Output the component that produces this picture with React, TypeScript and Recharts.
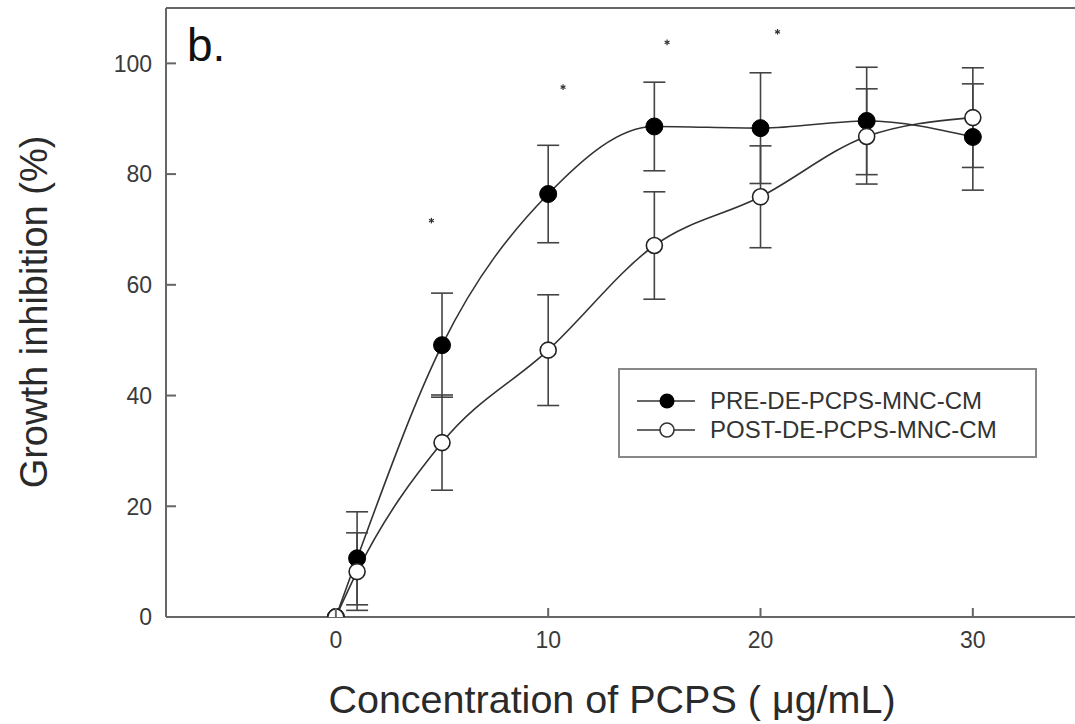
import React from 'react';
import {
  ComposedChart, Line, Scatter, XAxis, YAxis, ErrorBar, ReferenceLine, Legend, Customized,
} from 'recharts';

// ---- data ----
const concentrations = [0, 1, 5, 10, 15, 20, 25, 30];
const preMeans = [0, 10.6, 49.1, 76.4, 88.6, 88.3, 89.6, 86.7];
const preErrors = [0, 8.4, 9.4, 8.8, 8.0, 10.0, 9.7, 9.6];
const postMeans = [0, 8.2, 31.5, 48.2, 67.1, 75.9, 86.8, 90.2];
const postErrors = [0, 7.0, 8.6, 10.0, 9.7, 9.2, 8.6, 9.0];
const starX = [4.5, 10.7, 15.6, 20.8];
const starY = [71.6, 95.7, 103.8, 105.7];
const xTicks = [0, 10, 20, 30];
const yTicks = [0, 20, 40, 60, 80, 100];
const preName = 'PRE-DE-PCPS-MNC-CM';
const postName = 'POST-DE-PCPS-MNC-CM';

const preData = concentrations.map((x, i) => ({ x, y: preMeans[i], err: preErrors[i] }));
const postData = concentrations.map((x, i) => ({ x, y: postMeans[i], err: postErrors[i] }));
const starData = starX.map((x, i) => ({ x, y: starY[i] }));

const FONT = '"Liberation Sans", Arial, sans-serif';
const INK = '#2a2a2a';
const AXIS = '#666';

const YTick = (props: any) => {
  const { x, y, payload } = props;
  return (
    <g>
      <line x1={x + 14} y1={y} x2={x + 24} y2={y} stroke={AXIS} strokeWidth={2} />
      <text x={x} y={y} dy="0.36em" textAnchor="end" fontSize={23} fill="#3a3a3a" fontFamily={FONT}>
        {payload.value}
      </text>
    </g>
  );
};

const XTick = (props: any) => {
  const { x, y, payload } = props;
  return (
    <g>
      <line x1={x} y1={y - 15} x2={x} y2={y - 24} stroke={AXIS} strokeWidth={2} />
      <text x={x} y={y} dy="0.71em" textAnchor="middle" fontSize={23} fill="#3a3a3a" fontFamily={FONT}>
        {payload.value}
      </text>
    </g>
  );
};

const FilledDot = (props: any) => {
  const { cx, cy } = props;
  if (cx == null || cy == null) return null;
  return <circle cx={cx} cy={cy} r={8.5} fill="#000" stroke="#000" strokeWidth={1} />;
};

const OpenDot = (props: any) => {
  const { cx, cy } = props;
  if (cx == null || cy == null) return null;
  return <circle cx={cx} cy={cy} r={8} fill="#fff" stroke="#222" strokeWidth={1.6} />;
};

const Asterisk = (props: any) => {
  const { cx, cy } = props;
  if (cx == null || cy == null) return null;
  const r = 2.8;
  return (
    <g stroke="#333" strokeWidth={1.2}>
      <line x1={cx} y1={cy - r} x2={cx} y2={cy + r} />
      <line x1={cx - r * 0.87} y1={cy - r * 0.5} x2={cx + r * 0.87} y2={cy + r * 0.5} />
      <line x1={cx - r * 0.87} y1={cy + r * 0.5} x2={cx + r * 0.87} y2={cy - r * 0.5} />
    </g>
  );
};

const LegendBox = () => (
  <div
    style={{
      boxSizing: 'border-box',
      width: 419,
      height: 90,
      border: '2px solid #888',
      background: '#fff',
      fontFamily: FONT,
      fontSize: 24,
      color: '#333',
      paddingTop: 16,
    }}
  >
    {[{ name: preName, filled: true }, { name: postName, filled: false }].map((it) => (
      <div key={it.name} style={{ display: 'flex', alignItems: 'center', height: 29 }}>
        <svg width={90} height={24} style={{ marginLeft: 15, flex: 'none' }}>
          <line x1={2} y1={12} x2={60} y2={12} stroke="#333" strokeWidth={1.6} />
          {it.filled ? (
            <circle cx={32} cy={12} r={7.5} fill="#000" />
          ) : (
            <circle cx={32} cy={12} r={7} fill="#fff" stroke="#333" strokeWidth={1.6} />
          )}
        </svg>
        <span style={{ marginLeft: -15, whiteSpace: 'nowrap' }}>{it.name}</span>
      </div>
    ))}
  </div>
);

const Decorations = () => (
  <g fontFamily={FONT}>
    <text x={187} y={61} fontSize={46} fill="#111">b.</text>
    <text
      x={47}
      y={312}
      transform="rotate(-90, 47, 312)"
      textAnchor="middle"
      fontSize={38}
      fill={INK}
    >
      Growth inhibition (%)
    </text>
    <text x={612} y={713} textAnchor="middle" fontSize={39.5} fill={INK}>
      Concentration of PCPS ( μg/mL)
    </text>
  </g>
);

export default function App() {
  return (
    <div
      style={{
        position: 'absolute',
        left: 0,
        top: 0,
        width: 1075,
        height: 724,
        overflow: 'hidden',
        background: '#fff',
        fontFamily: FONT,
      }}
    >
      <ComposedChart
        width={1079}
        height={724}
        margin={{ top: 8, right: 0, bottom: 47, left: 0 }}
      >
        <XAxis
          type="number"
          dataKey="x"
          domain={[-8, 35]}
          ticks={xTicks}
          allowDataOverflow
          height={60}
          tickSize={0}
          tickMargin={15}
          tickLine={false}
          axisLine={{ stroke: AXIS, strokeWidth: 2 }}
          tick={<XTick />}
        />
        <YAxis
          type="number"
          dataKey="y"
          domain={[0, 110]}
          ticks={yTicks}
          allowDataOverflow
          width={166}
          tickSize={0}
          tickMargin={14}
          tickLine={false}
          axisLine={{ stroke: AXIS, strokeWidth: 2 }}
          tick={<YTick />}
        />
        <ReferenceLine y={110} stroke={AXIS} strokeWidth={2} />
        <Line
          data={preData}
          dataKey="y"
          name={preName}
          type="monotone"
          stroke="#333"
          strokeWidth={1.6}
          dot={<FilledDot />}
          activeDot={false}
          isAnimationActive={false}
        >
          <ErrorBar dataKey="err" direction="y" width={11} stroke="#444" strokeWidth={1.6} />
        </Line>
        <Line
          data={postData}
          dataKey="y"
          name={postName}
          type="monotone"
          stroke="#333"
          strokeWidth={1.6}
          dot={<OpenDot />}
          activeDot={false}
          isAnimationActive={false}
        >
          <ErrorBar dataKey="err" direction="y" width={11} stroke="#444" strokeWidth={1.6} />
        </Line>
        <Scatter data={starData} dataKey="y" shape={<Asterisk />} isAnimationActive={false} legendType="none" />
        <Legend
          layout="horizontal"
          verticalAlign="middle"
          align="center"
          content={<LegendBox />}
          wrapperStyle={{ left: 618, top: 368, width: 419, height: 90 }}
        />
        <Customized component={<Decorations />} />
      </ComposedChart>
    </div>
  );
}
